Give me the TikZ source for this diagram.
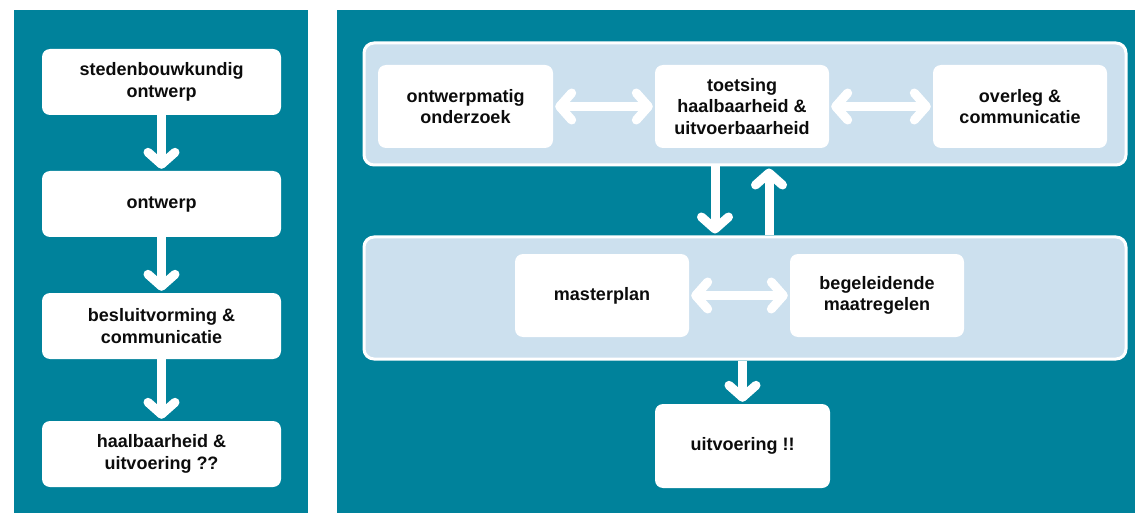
\documentclass[tikz,border=0pt]{standalone}
\usepackage{fontspec}
\setmainfont{Liberation Sans}
\usetikzlibrary{arrows.meta,calc}
\definecolor{teal}{RGB}{0,130,155}
\definecolor{paleblue}{RGB}{204,224,238}
\definecolor{ink}{RGB}{12,12,12}
\begin{document}
\begin{tikzpicture}[x=1pt,y=-1pt,
  panel/.style={fill=teal,draw=none},
  group/.style={fill=paleblue,draw=white,line width=3pt,rounded corners=10pt},
  card/.style={fill=white,draw=none,rounded corners=8pt,inner sep=0pt,
    align=center,text=ink,font=\fontsize{18}{21.5}\selectfont\bfseries},
  barb/.tip={Straight Barb[length=12pt,width=27pt,round]},
  flow/.style={draw=white,line width=9pt,-barb,shorten >=2pt},
  both/.style={flow,barb-barb,shorten <=2pt}]
  % canvas
  \fill[white] (0,0) rectangle (1135,513);
  \useasboundingbox (0,0) rectangle (1135,513);
  % two teal panels
  \fill[panel] (14,10) rectangle (308,513);
  \fill[panel] (337,10) rectangle (1135,513);

  % left panel: linear process
  \node[card,minimum width=239pt,minimum height=66pt] (s1) at (161.5,82) {stedenbouwkundig\\ontwerp};
  \node[card,minimum width=239pt,minimum height=66pt] (s2) at (161.5,204) {ontwerp};
  \node[card,minimum width=239pt,minimum height=66pt] (s3) at (161.5,326) {besluitvorming \&\\communicatie};
  \node[card,minimum width=239pt,minimum height=66pt] (s4) at (161.5,454) {haalbaarheid \&\\uitvoering ??};
  \draw[flow] (s1) -- (s2);
  \draw[flow] (s2) -- (s3);
  \draw[flow] (s3) -- (s4);

  % right panel: iterative process
  \node[group,minimum width=762pt,minimum height=122pt] (up) at (745,104) {};
  \node[group,minimum width=762pt,minimum height=122pt] (low) at (745,298) {};

  \node[card,minimum width=175pt,minimum height=83pt] (ond) at (465.5,106.5) {ontwerpmatig\\onderzoek};
  \node[card,minimum width=174pt,minimum height=83pt] (toe) at (742,106.5) {toetsing\\haalbaarheid \&\\uitvoerbaarheid};
  \node[card,minimum width=174pt,minimum height=83pt] (ovl) at (1020,106.5) {overleg \&\\communicatie};

  \node[card,minimum width=174pt,minimum height=83pt] (mp) at (602,295.5) {masterplan};
  \node[card,minimum width=174pt,minimum height=83pt] (bm) at (877,295.5) {begeleidende\\maatregelen};

  \node[card,minimum width=175pt,minimum height=84pt] (uit) at (742.5,446) {uitvoering !!};

  \draw[both] (ond) -- (toe);
  \draw[both] (toe) -- (ovl);
  \draw[both] (mp) -- (bm);

  \draw[flow] ($(toe.center |- up.south)+(-27,0)$) -- ($(toe.center |- low.north)+(-27,0)$);
  \draw[flow] ($(toe.center |- low.north)+(27,0)$) -- ($(toe.center |- up.south)+(27,0)$);
  \draw[flow] (uit.center |- low.south) -- (uit.north);
\end{tikzpicture}
\end{document}
